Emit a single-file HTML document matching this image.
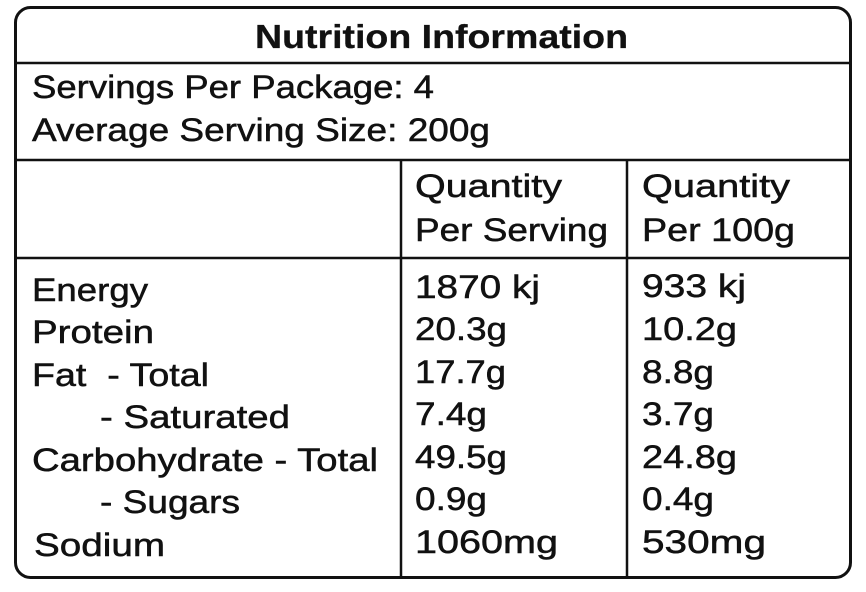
<!DOCTYPE html>
<html><head><meta charset="utf-8"><style>
html,body{margin:0;padding:0;background:#fff;}
svg{display:block;}
text{font-family:"Liberation Sans",sans-serif;font-size:32px;fill:#111;stroke:#111;stroke-width:0.5px;}
</style></head><body>
<svg width="866" height="592" viewBox="0 0 866 592">
<rect x="15.5" y="7.5" width="835" height="570" rx="15" ry="15" fill="#fff" stroke="#111" stroke-width="3"/>
<line x1="15" y1="63" x2="851" y2="63" stroke="#111" stroke-width="2.5"/>
<line x1="15" y1="160" x2="851" y2="160" stroke="#111" stroke-width="2.5"/>
<line x1="15" y1="258" x2="851" y2="258" stroke="#111" stroke-width="2.5"/>
<line x1="401" y1="160" x2="401" y2="578" stroke="#111" stroke-width="2.5"/>
<line x1="627" y1="160" x2="627" y2="578" stroke="#111" stroke-width="2.5"/>
<text x="255" y="48" style="font-size:33px;font-weight:bold;stroke-width:0.3px" textLength="373" lengthAdjust="spacingAndGlyphs">Nutrition Information</text>
<text x="32" y="98" textLength="402" lengthAdjust="spacingAndGlyphs">Servings Per Package: 4</text>
<text x="32" y="141" textLength="458" lengthAdjust="spacingAndGlyphs">Average Serving Size: 200g</text>
<text x="415" y="197" textLength="147" lengthAdjust="spacingAndGlyphs">Quantity</text>
<text x="415" y="241" textLength="193" lengthAdjust="spacingAndGlyphs">Per Serving</text>
<text x="642" y="197" textLength="148" lengthAdjust="spacingAndGlyphs">Quantity</text>
<text x="642" y="241" textLength="153" lengthAdjust="spacingAndGlyphs">Per 100g</text>
<text x="32" y="301" textLength="116" lengthAdjust="spacingAndGlyphs">Energy</text>
<text x="32" y="343" textLength="122" lengthAdjust="spacingAndGlyphs">Protein</text>
<text x="32" y="386" textLength="177" lengthAdjust="spacingAndGlyphs" xml:space="preserve">Fat  - Total</text>
<text x="100" y="428" textLength="190" lengthAdjust="spacingAndGlyphs">- Saturated</text>
<text x="32" y="471" textLength="346" lengthAdjust="spacingAndGlyphs">Carbohydrate - Total</text>
<text x="100" y="513" textLength="140" lengthAdjust="spacingAndGlyphs">- Sugars</text>
<text x="34" y="556" textLength="131" lengthAdjust="spacingAndGlyphs">Sodium</text>
<text x="415" y="298" textLength="125" lengthAdjust="spacingAndGlyphs">1870 kj</text>
<text x="415" y="340" textLength="92" lengthAdjust="spacingAndGlyphs">20.3g</text>
<text x="415" y="383" textLength="91" lengthAdjust="spacingAndGlyphs">17.7g</text>
<text x="415" y="425" textLength="72" lengthAdjust="spacingAndGlyphs">7.4g</text>
<text x="415" y="468" textLength="92" lengthAdjust="spacingAndGlyphs">49.5g</text>
<text x="415" y="510" textLength="72" lengthAdjust="spacingAndGlyphs">0.9g</text>
<text x="415" y="553" textLength="143" lengthAdjust="spacingAndGlyphs">1060mg</text>
<text x="642" y="297" textLength="104" lengthAdjust="spacingAndGlyphs">933 kj</text>
<text x="642" y="340" textLength="95" lengthAdjust="spacingAndGlyphs">10.2g</text>
<text x="642" y="383" textLength="72" lengthAdjust="spacingAndGlyphs">8.8g</text>
<text x="642" y="425" textLength="72" lengthAdjust="spacingAndGlyphs">3.7g</text>
<text x="642" y="468" textLength="95" lengthAdjust="spacingAndGlyphs">24.8g</text>
<text x="642" y="510" textLength="72" lengthAdjust="spacingAndGlyphs">0.4g</text>
<text x="642" y="553" textLength="124" lengthAdjust="spacingAndGlyphs">530mg</text>
</svg>
</body></html>
